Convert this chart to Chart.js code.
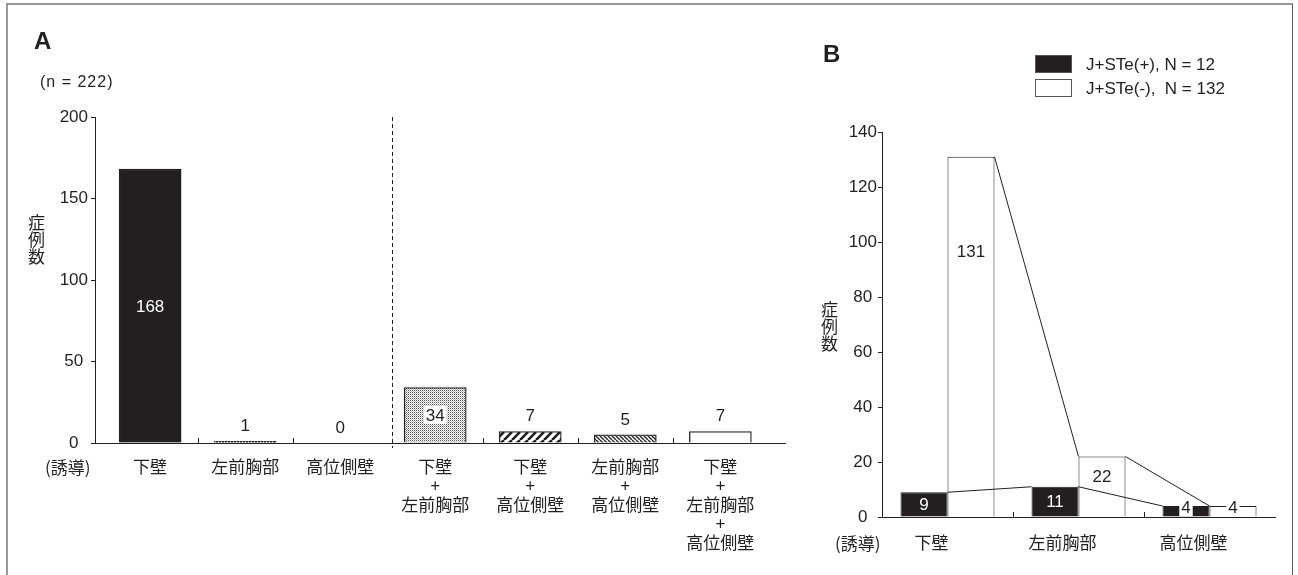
<!DOCTYPE html>
<html lang="ja">
<head>
<meta charset="utf-8">
<title>誘導別症例数</title>
<script src="https://cdn.jsdelivr.net/npm/chart.js@4.4.1/dist/chart.umd.min.js"></script>
<style>
  html, body { margin: 0; padding: 0; background: #fff; }
  body { width: 1298px; height: 575px; position: relative; overflow: hidden; color: #231f20;
         font-family: 'Liberation Sans', Arial, sans-serif; }
  .frame { position: absolute; left: 6px; top: 3px; width: 1287px; height: 600px; box-sizing: border-box;
           border: 2px solid #999; border-right: 1.5px solid #555; border-bottom: none; }
  canvas { position: absolute; top: 0; }
  #chartA { left: 0; }
  #chartB { left: 800px; }
  .txt { position: absolute; white-space: pre; line-height: 1; }
  .panel { font-size: 24px; font-weight: bold; }
  .small { font-size: 16px; letter-spacing: 1px; }
  .jp { font-family: 'Noto Sans CJK JP', sans-serif; font-size: 17px; }
  .ytitle { writing-mode: vertical-rl; }
  .legend-box { position: absolute; width: 37px; height: 18px; box-sizing: border-box; border: 1px solid #555; }
  .legend-text { font-size: 17px; }
</style>
</head>
<body>
<div class="frame"></div>
<canvas id="chartA" width="800" height="575"></canvas>
<canvas id="chartB" width="498" height="575"></canvas>

<div class="txt panel" style="left:34px; top:29px;">A</div>
<div class="txt small" style="left:40px; top:74px;">(n = 222)</div>
<div class="txt jp ytitle" style="left:28px; top:214px;">症例数</div>
<div class="txt jp" style="left:45px; top:458px;">(誘導)</div>

<div class="txt panel" style="left:823px; top:42px;">B</div>
<div id="legendB"></div>
<div class="txt jp ytitle" style="left:821px; top:301px;">症例数</div>
<div class="txt jp" style="left:835px; top:534px;">(誘導)</div>

<script>
// panel A: leads involved, all cases
const leadLabelsA = [
    ['下壁'],
    ['左前胸部'],
    ['高位側壁'],
    ['下壁', '+', '左前胸部'],
    ['下壁', '+', '高位側壁'],
    ['左前胸部', '+', '高位側壁'],
    ['下壁', '+', '左前胸部', '+', '高位側壁']
];
const casesA = [168, 1, 0, 34, 7, 5, 7];
const yTicksA = [0, 50, 100, 150, 200];

// panel B: J+STe(+) vs J+STe(-) per lead
const leadLabelsB = ['下壁', '左前胸部', '高位側壁'];
const positiveB = [9, 11, 4];
const negativeB = [131, 22, 4];
const yTicksB = [0, 20, 40, 60, 80, 100, 120, 140];
const legendB = ['J+STe(+), N = 12', 'J+STe(-),  N = 132'];

const INK = '#231f20';
const NUM_FONT = { family: "'Liberation Sans', Arial, sans-serif", size: 17 };
const JP_FONT = { family: "'Noto Sans CJK JP', sans-serif", size: 17, lineHeight: 19 / 17 };

Chart.defaults.color = INK;
Chart.defaults.font.family = NUM_FONT.family;

const ctxA = document.getElementById('chartA').getContext('2d');

function makePattern(ctx, size, draw) {
    const tile = document.createElement('canvas');
    tile.width = tile.height = size;
    const g = tile.getContext('2d');
    g.fillStyle = '#fff';
    g.fillRect(0, 0, size, size);
    draw(g, size);
    return ctx.createPattern(tile, 'repeat');
}

function hatch(g, s, width, forward) {
    g.strokeStyle = INK;
    g.lineWidth = width;
    g.beginPath();
    for (let k = -1; k <= 1; k++) {
        if (forward) {
            g.moveTo(k * s, s);
            g.lineTo(k * s + s, 0);
        } else {
            g.moveTo(k * s, 0);
            g.lineTo(k * s + s, s);
        }
    }
    g.stroke();
}

const fillsA = [
    INK,
    makePattern(ctxA, 3, (g) => { g.fillStyle = INK; g.fillRect(0, 0, 2, 3); }),
    '#fff',
    makePattern(ctxA, 2, (g) => { g.fillStyle = '#555'; g.fillRect(0, 0, 1, 1); g.fillStyle = '#bbb'; g.fillRect(1, 1, 1, 1); }),
    makePattern(ctxA, 8, (g, s) => hatch(g, s, 2.6, true)),
    makePattern(ctxA, 4, (g, s) => hatch(g, s, 1.3, false)),
    '#fff'
];

function drawLabel(ctx, text, x, y, color, boxed) {
    ctx.font = `${NUM_FONT.size}px ${NUM_FONT.family}`;
    ctx.textAlign = 'center';
    ctx.textBaseline = 'middle';
    if (boxed) {
        const w = ctx.measureText(text).width + 4;
        ctx.fillStyle = '#fff';
        ctx.fillRect(x - w / 2, y - 9, w, 18);
    }
    ctx.fillStyle = color;
    ctx.fillText(text, x, y + 1);
}

const panelADecor = {
    id: 'panelADecor',
    afterDatasetsDraw(chart) {
        const { ctx, scales: { x, y } } = chart;
        ctx.save();
        ctx.strokeStyle = INK;
        ctx.lineWidth = 1;

        // separator between single and combined leads
        const sx = Math.round(x.getPixelForValue(2.55)) + 0.5;
        ctx.setLineDash([4, 3]);
        ctx.beginPath();
        ctx.moveTo(sx, y.top);
        ctx.lineTo(sx, y.bottom + 5);
        ctx.stroke();
        ctx.setLineDash([]);

        // small upward ticks between categories
        [0, 1, 3, 4, 5].forEach((i) => {
            const tx = Math.round(x.getPixelForValue(i + 0.5)) + 0.5;
            ctx.beginPath();
            ctx.moveTo(tx, y.bottom);
            ctx.lineTo(tx, y.bottom - 5);
            ctx.stroke();
        });

        const meta = chart.getDatasetMeta(0);
        meta.data.forEach((bar, i) => {
            const v = casesA[i];
            const { x: bx, y: top, base } = bar.getProps(['x', 'y', 'base'], true);
            if (v >= 100) {
                drawLabel(ctx, String(v), bx, (top + base) / 2, '#fff', false);
            } else if (v >= 20) {
                drawLabel(ctx, String(v), bx, (top + base) / 2, INK, true);
            } else {
                drawLabel(ctx, String(v), bx, top - 16, INK, false);
            }
        });
        ctx.restore();
    }
};

new Chart(ctxA, {
    type: 'bar',
    data: {
        datasets: [{
            data: casesA.map((v, i) => ({ x: i, y: v })),
            backgroundColor: fillsA,
            borderColor: INK,
            borderWidth: (c) => (casesA[c.dataIndex] === 0 ? 0 : 1.3),
            barThickness: 62
        }]
    },
    options: {
        responsive: false,
        animation: false,
        layout: { padding: { left: 0, right: 15, top: 117, bottom: 0 } },
        plugins: { legend: { display: false }, tooltip: { enabled: false } },
        scales: {
            x: {
                type: 'linear',
                offset: false,
                min: -0.58,
                max: 6.68,
                grid: { display: false, drawTicks: false, offset: false },
                border: { display: true, color: INK, width: 1 },
                ticks: {
                    stepSize: 1,
                    includeBounds: false,
                    autoSkip: false,
                    maxRotation: 0,
                    padding: 14,
                    color: INK,
                    font: JP_FONT,
                    callback: (v) => leadLabelsA[v] || ''
                },
                afterFit: (s) => { s.height = 132; }
            },
            y: {
                min: yTicksA[0],
                max: yTicksA[yTicksA.length - 1],
                grid: { drawOnChartArea: false, drawTicks: true, tickLength: 4, color: INK },
                border: { display: true, color: INK, width: 1 },
                ticks: {
                    stepSize: yTicksA[1] - yTicksA[0],
                    crossAlign: 'center',
                    padding: 3,
                    color: INK,
                    font: NUM_FONT
                },
                afterFit: (s) => { s.width = 95; }
            }
        }
    },
    plugins: [panelADecor]
});

// panel B
const ctxB = document.getElementById('chartB').getContext('2d');

const panelBDecor = {
    id: 'panelBDecor',
    afterDatasetsDraw(chart) {
        const { ctx, scales: { x, y } } = chart;
        ctx.save();
        ctx.strokeStyle = INK;
        ctx.lineWidth = 1;

        const band = x.width / leadLabelsB.length;
        for (let i = 0; i < leadLabelsB.length - 1; i++) {
            const tx = Math.round(x.getPixelForValue(i) + band / 2) + 0.5;
            ctx.beginPath();
            ctx.moveTo(tx, y.bottom);
            ctx.lineTo(tx, y.bottom - 5);
            ctx.stroke();
        }

        // series lines joining bar tops
        chart.data.datasets.forEach((ds, d) => {
            const bars = chart.getDatasetMeta(d).data;
            ctx.beginPath();
            for (let i = 0; i < bars.length - 1; i++) {
                const a = bars[i].getProps(['x', 'y', 'width'], true);
                const b = bars[i + 1].getProps(['x', 'y', 'width'], true);
                ctx.moveTo(a.x + a.width / 2, a.y);
                ctx.lineTo(b.x - b.width / 2, b.y);
            }
            ctx.stroke();
        });

        chart.data.datasets.forEach((ds, d) => {
            chart.getDatasetMeta(d).data.forEach((bar, i) => {
                const v = ds.data[i];
                const { x: bx, y: top, base } = bar.getProps(['x', 'y', 'base'], true);
                const mid = (top + base) / 2;
                const ly = Math.min(mid, top + (v > 50 ? 95 : 20));
                if (d === 0) {
                    if (v < 6) drawLabel(ctx, String(v), bx, ly - 4, INK, true);
                    else drawLabel(ctx, String(v), bx, ly, '#fff', false);
                } else {
                    drawLabel(ctx, String(v), bx, v < 6 ? ly - 4 : ly, INK, v < 6);
                }
            });
        });
        ctx.restore();
    }
};

new Chart(ctxB, {
    type: 'bar',
    data: {
        labels: leadLabelsB,
        datasets: [
            { label: legendB[0], data: positiveB, backgroundColor: INK, borderColor: INK, borderWidth: 1 },
            { label: legendB[1], data: negativeB, backgroundColor: '#fff', borderColor: INK, borderWidth: 1 }
        ]
    },
    options: {
        responsive: false,
        animation: false,
        categoryPercentage: 0.7176,
        barPercentage: 1,
        layout: { padding: { left: 0, right: 23, top: 132, bottom: 0 } },
        plugins: { legend: { display: false }, tooltip: { enabled: false } },
        scales: {
            x: {
                grid: { display: false, drawTicks: false },
                border: { display: true, color: INK, width: 1 },
                ticks: {
                    padding: 16,
                    labelOffset: -16,
                    maxRotation: 0,
                    color: INK,
                    font: JP_FONT
                },
                afterFit: (s) => { s.height = 58; }
            },
            y: {
                min: yTicksB[0],
                max: yTicksB[yTicksB.length - 1],
                grid: { drawOnChartArea: false, drawTicks: true, tickLength: 4, color: INK },
                border: { display: true, color: INK, width: 1 },
                ticks: {
                    stepSize: yTicksB[1] - yTicksB[0],
                    crossAlign: 'center',
                    padding: 1,
                    color: INK,
                    font: NUM_FONT
                },
                afterFit: (s) => { s.width = 82; }
            }
        }
    },
    plugins: [panelBDecor]
});

// legend for panel B, built from the dataset labels
const legendEl = document.getElementById('legendB');
const swatches = [INK, '#fff'];
legendB.forEach((text, i) => {
    const top = 55 + i * 24;
    legendEl.innerHTML +=
        `<div class="legend-box" style="left:1035px; top:${top}px; background:${swatches[i]};"></div>` +
        `<div class="txt legend-text" style="left:1086px; top:${top + 1}px;">${text}</div>`;
});
</script>
</body>
</html>
